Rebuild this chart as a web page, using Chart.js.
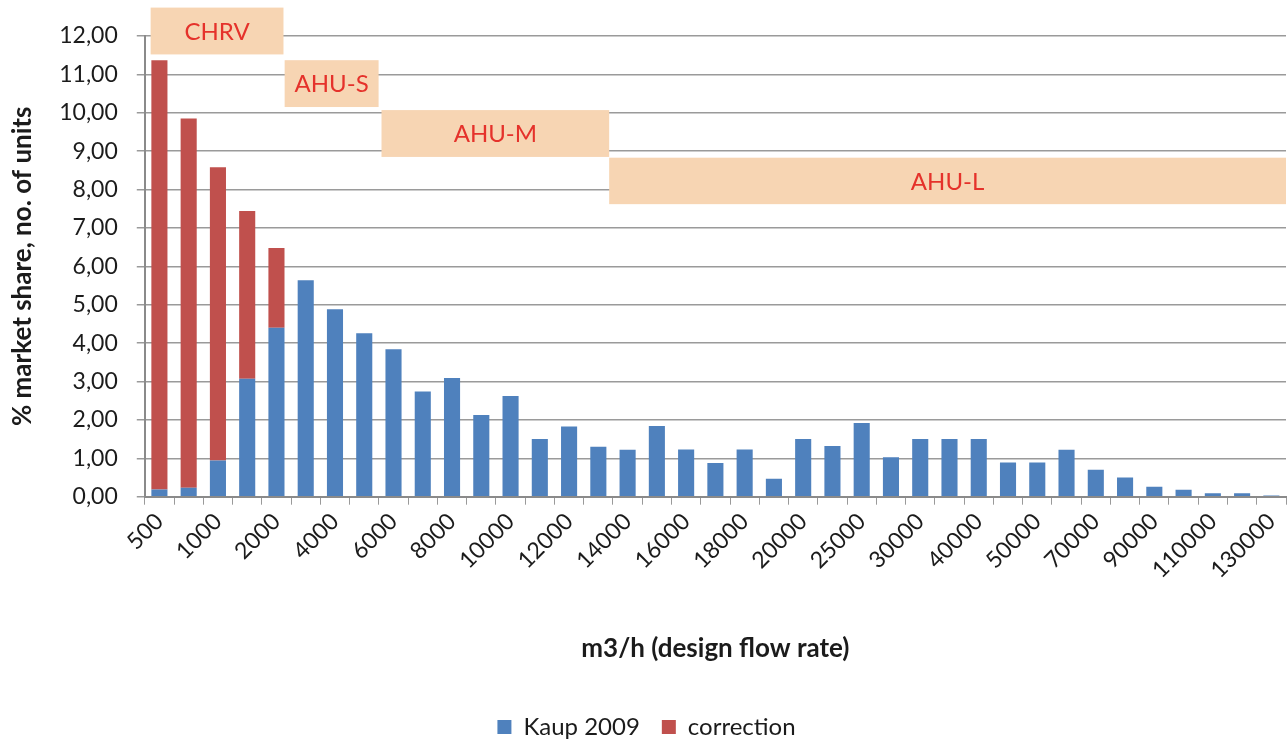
<!DOCTYPE html>
<html>
<head>
<meta charset="utf-8">
<script src="https://cdn.jsdelivr.net/npm/chart.js@4.4.1/dist/chart.umd.min.js"></script>
<style>
  html, body { margin: 0; padding: 0; background: #fff; }
  #wrap { width: 1288px; height: 743px; }
</style>
</head>
<body>
<div id="wrap"><canvas id="flowChart" width="1288" height="743"></canvas></div>
<script>
// design flow rate classes (m3/h)
const flowRates = [
  "500", "750", "1000", "1500", "2000", "3000", "4000", "5000", "6000", "7000",
  "8000", "9000", "10000", "11000", "12000", "13000", "14000", "15000", "16000", "17000",
  "18000", "19000", "20000", "22500", "25000", "27500", "30000", "35000", "40000", "45000",
  "50000", "60000", "70000", "80000", "90000", "100000", "110000", "120000", "130000"
];

// % market share, no. of units
const kaup2009 = [
  0.19, 0.23, 0.94, 3.07, 4.40, 5.64, 4.88, 4.26, 3.84, 2.74,
  3.09, 2.13, 2.62, 1.50, 1.83, 1.30, 1.22, 1.84, 1.23, 0.88,
  1.23, 0.47, 1.50, 1.32, 1.92, 1.03, 1.50, 1.50, 1.50, 0.89,
  0.89, 1.22, 0.70, 0.50, 0.26, 0.18, 0.09, 0.09, 0.03
];
const correction = [11.18, 9.62, 7.64, 4.37, 2.08];

const yTicks = [0, 1, 2, 3, 4, 5, 6, 7, 8, 9, 10, 11, 12];

// unit classes drawn as bands: category range and value range
const bandNames = ["CHRV", "AHU-S", "AHU-M", "AHU-L"];
const bandFrom = [-0.3, 4.28, 7.59, 15.37];
const bandTo = [4.24, 7.49, 15.37, 38.5];
const bandTop = [12.74, 11.37, 10.07, 8.83];
const bandBottom = [11.52, 10.15, 8.85, 7.62];

const FONT = "Lato";
const TEXT = "#1b1b1b";
const GRID = "#9a9a9a";

const bandPlugin = {
  id: "bands",
  afterDatasetsDraw(chart) {
    const { ctx, scales: { x, y } } = chart;
    const step = x.getPixelForValue(1) - x.getPixelForValue(0);
    ctx.save();
    bandNames.forEach((name, i) => {
      const x0 = x.getPixelForValue(0) + bandFrom[i] * step;
      const x1 = x.getPixelForValue(0) + bandTo[i] * step;
      const y0 = y.getPixelForValue(bandTop[i]);
      const y1 = y.getPixelForValue(bandBottom[i]);
      ctx.fillStyle = "#f7d5b3";
      ctx.fillRect(x0, y0, x1 - x0, y1 - y0);
      ctx.fillStyle = "#e5322b";
      ctx.font = "24px " + FONT;
      ctx.textAlign = "center";
      ctx.textBaseline = "middle";
      ctx.fillText(name, (x0 + x1) / 2, (y0 + y1) / 2 + 1);
    });
    ctx.restore();
  }
};

const ctx = document.getElementById("flowChart").getContext("2d");

new Chart(ctx, {
  type: "bar",
  data: {
    labels: flowRates,
    datasets: [
      {
        label: "Kaup 2009",
        data: kaup2009,
        backgroundColor: "#4f81bd",
        categoryPercentage: 1,
        barPercentage: 0.55
      },
      {
        label: "correction",
        data: correction,
        backgroundColor: "#c0504d",
        categoryPercentage: 1,
        barPercentage: 0.55
      }
    ]
  },
  options: {
    responsive: false,
    animation: false,
    layout: { padding: { top: 36, right: 2, left: 7, bottom: -6 } },
    plugins: {
      legend: {
        position: "bottom",
        labels: {
          color: TEXT,
          font: { family: FONT, size: 24 },
          boxWidth: 14,
          boxHeight: 14,
          padding: 22
        }
      },
      tooltip: { enabled: false }
    },
    scales: {
      x: {
        stacked: true,
        afterFit: axis => { axis.paddingRight = 0; },
        grid: { drawOnChartArea: false, color: GRID, tickLength: 8 },
        border: { color: "#8a8a8a", width: 2 },
        ticks: {
          autoSkip: false,
          maxRotation: 45,
          minRotation: 45,
          color: TEXT,
          font: { family: FONT, size: 23 },
          callback: (v, i) => (i % 2 === 0 ? flowRates[i] : "")
        },
        title: {
          display: true,
          text: "m3/h (design flow rate)",
          color: TEXT,
          font: { family: FONT, size: 26, weight: "bold" },
          padding: { top: 46, bottom: 29 }
        }
      },
      y: {
        stacked: true,
        min: 0,
        max: 12,
        afterBuildTicks: axis => { axis.ticks = yTicks.map(v => ({ value: v })); },
        grid: { color: GRID, lineWidth: 1.5, tickLength: 8 },
        border: { color: "#8a8a8a", width: 2 },
        ticks: {
          color: TEXT,
          padding: 19,
          font: { family: FONT, size: 23 },
          callback: v => v.toFixed(2).replace(".", ",")
        },
        title: {
          display: true,
          text: "% market share, no. of units",
          color: TEXT,
          font: { family: FONT, size: 26, weight: "bold" },
          padding: { top: 0, bottom: 2 }
        }
      }
    }
  },
  plugins: [bandPlugin]
});
</script>
</body>
</html>
